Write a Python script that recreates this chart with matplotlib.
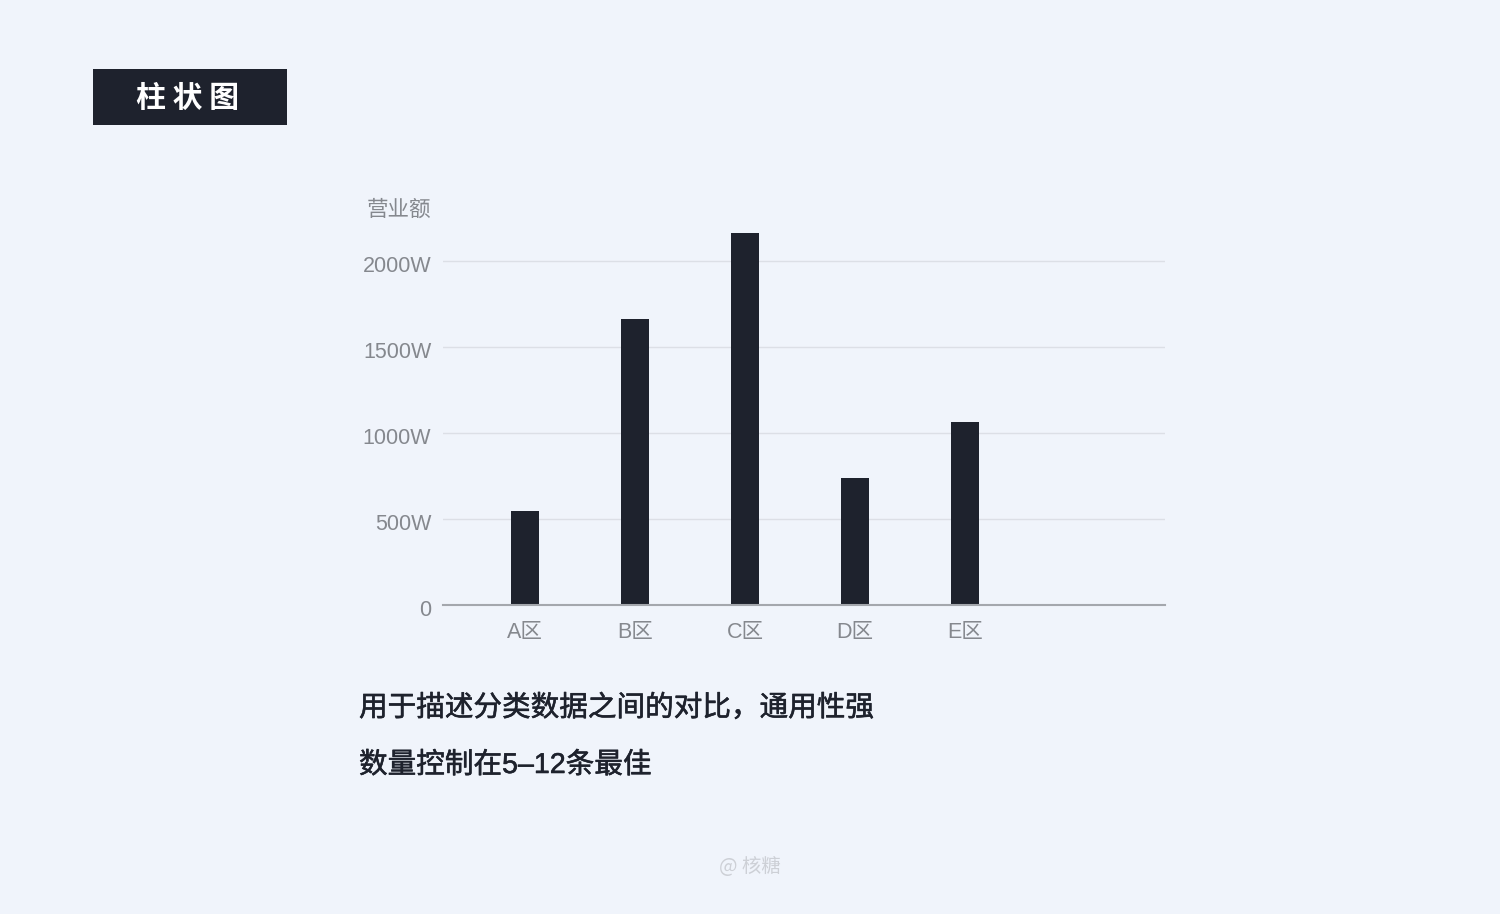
import matplotlib
matplotlib.use("Agg")
import matplotlib.pyplot as plt
import matplotlib.transforms as mtransforms
import matplotlib.patheffects as pe
from matplotlib.patches import Rectangle

plt.rcParams['font.family'] = ['Liberation Sans', 'Noto Sans CJK SC', 'DejaVu Sans']

# data
regions = ["A区", "B区", "C区", "D区", "E区"]
revenue = [545, 1660, 2160, 740, 1065]
y_ticks = [0, 500, 1000, 1500, 2000]
y_labels = ["0", "500W", "1000W", "1500W", "2000W"]

BG = "#F0F4FB"
DARK = "#1E222D"
GRAY = "#85888E"
CJK = ['Noto Sans CJK SC', 'DejaVu Sans']

W, H = 1500, 914
fig = plt.figure(figsize=(15, 9.14), dpi=100, facecolor=BG)

def fx(px):
    return px / W

def fy(py):
    return 1 - py / H

# title box
fig.patches.append(Rectangle((fx(93), fy(125)), fx(287) - fx(93), fy(69) - fy(125),
                             transform=fig.transFigure, facecolor=DARK, edgecolor="none"))
fig.text(fx(188), fy(98), "柱 状 图", color="white", fontsize=21.5, fontweight="bold",
         ha="center", va="center", family=CJK)

# chart area
y_top = 2200
top_px = 605 - y_top / 500 * 86
ax = fig.add_axes([fx(443), fy(605), fx(1165) - fx(443), fy(top_px) - fy(605)])
ax.set_facecolor(BG)
x = list(range(len(regions)))
ax.bar(x, revenue, width=0.255, color=DARK, zorder=3)
ax.set_xlim(-0.745, 5.818)
ax.set_ylim(0, y_top)
ax.set_yticks(y_ticks)
ax.set_yticklabels(y_labels)
ax.set_xticks(x)
ax.set_xticklabels(regions)
ax.tick_params(axis="y", length=0, pad=8.5, labelsize=15.5, labelcolor=GRAY)
ax.tick_params(axis="x", length=0, pad=12.5, labelsize=15.5, labelcolor=GRAY)
shift = mtransforms.ScaledTranslation(0, -3 / 100, fig.dpi_scale_trans)
for lbl in ax.get_yticklabels():
    lbl.set_transform(lbl.get_transform() + shift)
ax.grid(axis="y", color="#DCDFE6", linewidth=1, zorder=0)
for s in ["top", "right", "left"]:
    ax.spines[s].set_visible(False)
ax.spines["bottom"].set_color("#A4A7AD")
ax.spines["bottom"].set_linewidth(1.5)
ax.spines["bottom"].set_zorder(4)

fig.text(fx(431), fy(210), "营业额", color=GRAY, fontsize=15.5, ha="right", va="center",
         family=CJK)

# description
medium = [pe.withStroke(linewidth=0.4, foreground=DARK)]
fig.text(fx(359), fy(708), "用于描述分类数据之间的对比，通用性强", color=DARK,
         fontsize=20.6, ha="left", va="center", family=CJK, path_effects=medium)
fig.text(fx(359), fy(765), "数量控制在5–12条最佳", color=DARK,
         fontsize=20.6, ha="left", va="center",
         family=['Liberation Sans', 'Noto Sans CJK SC'], path_effects=medium)

fig.text(fx(750), fy(866), "@ 核糖", color="#CDD0D6", fontsize=14, ha="center", va="center",
         family=CJK)

fig.savefig("out.png", dpi=100, facecolor=BG)
